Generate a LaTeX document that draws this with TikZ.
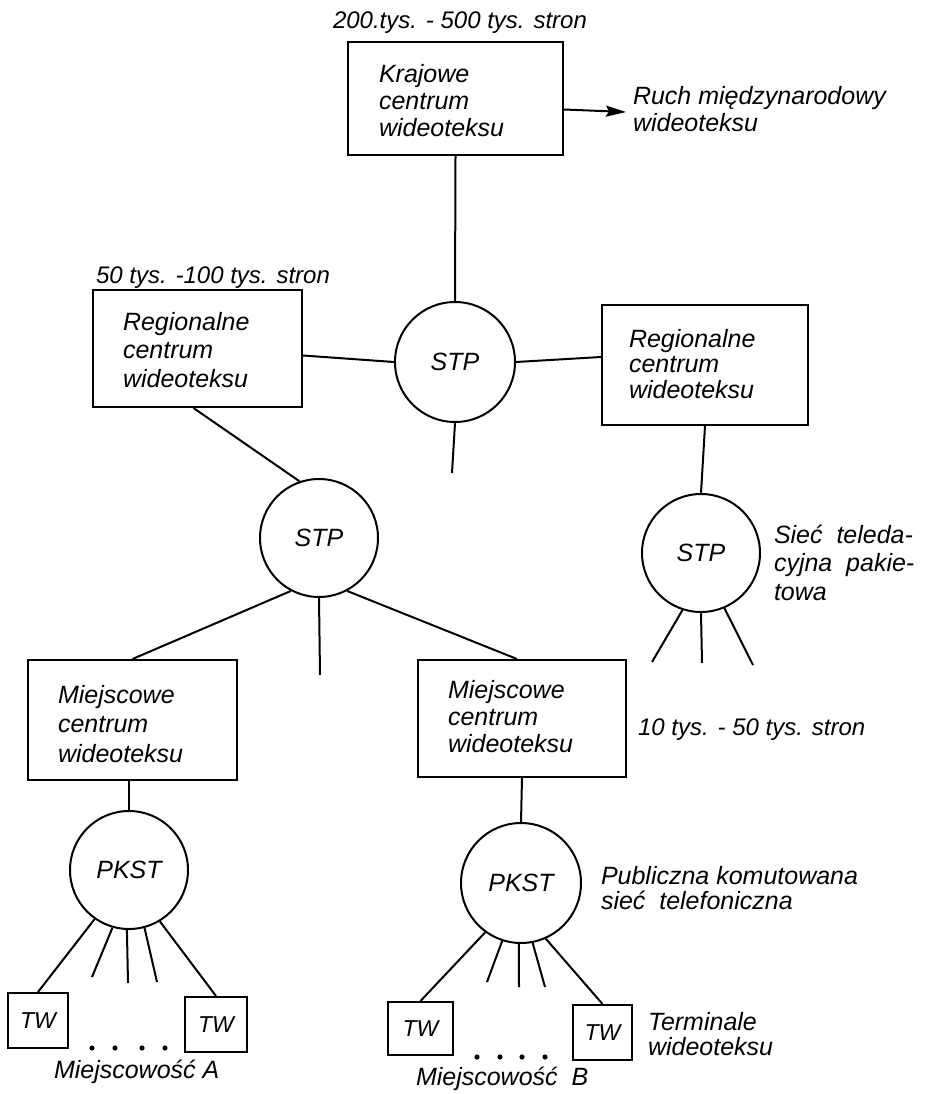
\documentclass[tikz,border=0pt]{standalone}
\usepackage{fontspec}
\setmainfont{Liberation Sans}
\usetikzlibrary{arrows.meta}
\begin{document}
\begin{tikzpicture}[x=1pt,y=-1pt, line width=2pt,
  box/.style={draw, rectangle, inner sep=0pt},
  hub/.style={draw, circle, inner sep=0pt, font=\fontsize{25}{27}\selectfont\itshape},
  txt/.style={inner sep=0pt, anchor=base west, align=left, font=\fontsize{25}{#1}\selectfont\itshape},
  txt/.default=27pt,
  lbl/.style={inner sep=0pt, anchor=base west, font=\fontsize{24}{26}\selectfont\itshape},
  tw/.style={draw, rectangle, inner sep=0pt, font=\fontsize{23}{25}\selectfont\itshape},
  dot/.style={fill=black, draw=none}]
\useasboundingbox (0,0) rectangle (931,1094);

% boxes
\node[box, minimum width=215pt, minimum height=113pt] (kraj) at (455.5,98.5) {};
\node[box, minimum width=209pt, minimum height=117pt] (regL) at (197.5,348.5) {};
\node[box, minimum width=206pt, minimum height=120pt] (regR) at (705,365) {};
\node[box, minimum width=209pt, minimum height=120pt] (mieA) at (132.5,720) {};
\node[box, minimum width=208pt, minimum height=117pt] (mieB) at (522,718.5) {};

% hubs
\node[hub, minimum size=120pt] (stp1) at (455,362) {STP};
\node[hub, minimum size=118pt] (stp2) at (319,538) {STP};
\node[hub, minimum size=118pt] (stp3) at (701,553) {STP};
\node[hub, minimum size=118pt] (pkA) at (129,870) {PKST};
\node[hub, minimum size=120pt] (pkB) at (521,883) {PKST};

% terminals
\node[tw, minimum width=60pt, minimum height=55pt] (twA1) at (38,1020.5) {TW};
\node[tw, minimum width=62pt, minimum height=55pt] (twA2) at (216,1024.5) {TW};
\node[tw, minimum width=65pt, minimum height=53pt] (twB1) at (420.5,1028.5) {TW};
\node[tw, minimum width=59pt, minimum height=55pt] (twB2) at (602.5,1032.5) {TW};

% texts in boxes (anchor = baseline of last line)
\node[txt] (tkraj) at (378,137) {Krajowe\\centrum\\wideoteksu};
\node[txt=28.5pt] (tregL) at (122,387) {Regionalne\\centrum\\wideoteksu};
\node[txt=25.5pt] (tregR) at (628,398) {Regionalne\\centrum\\wideoteksu};
\node[txt=29.5pt] (tmieA) at (57,762) {Miejscowe\\centrum\\wideoteksu};
\node[txt=27pt] (tmieB) at (447,752) {Miejscowe\\centrum\\wideoteksu};

% labels
\node[lbl] (l1) at (332,29) {200.tys. - 500 tys. stron};
\node[lbl] (l2) at (95,283) {50 tys. -100 tys. stron};
\node[lbl] (l3) at (637,735) {10 tys. - 50 tys. stron};
\node[txt] (ruch) at (632,132) {Ruch międzynarodowy\\wideoteksu};
\node[txt=28.5pt] (siec) at (773,600) {Sieć \ teleda-\\cyjna \ pakie-\\towa};
\node[txt=25pt] (pub) at (600,909) {Publiczna komutowana\\sieć \ telefoniczna};
\node[txt=25pt] (term) at (647,1055) {Terminale\\wideoteksu};
\node[txt] (mA) at (53,1078) {Miejscowość A};
\node[txt] (mB) at (415,1085) {Miejscowość \ B};

% free ends
\coordinate (ruchtip) at (626,112);
\coordinate (e1) at (452,473);
\coordinate (e2) at (320,675);
\coordinate (e3a) at (652,662);
\coordinate (e3b) at (702,663);
\coordinate (e3c) at (753,665);
\coordinate (eA2) at (92,977);
\coordinate (eA3) at (128,983);
\coordinate (eA4) at (157,982);
\coordinate (eB2) at (487,982);
\coordinate (eB3) at (519,987);
\coordinate (eB4) at (545,987);

% connectors
\draw (kraj.south) -- (stp1.north);
\draw[-{Stealth[length=20pt,width=11pt,inset=3pt]}] ([yshift=-11pt]kraj.east) -- (ruchtip);
\draw ([yshift=-7pt]regL.east) -- (stp1.west);
\draw (stp1.east) -- ([yshift=8pt]regR.west);
\draw (stp1.south) -- (e1);
\draw ([xshift=-4pt]regL.south) -- (stp2.109);
\draw (regR.south) -- (stp3.north);
\draw (stp3.252) -- (e3a);
\draw (stp3.south) -- (e3b);
\draw (stp3.293) -- (e3c);
\draw (stp2.242) -- (mieA.north);
\draw (stp2.south) -- (e2);
\draw (stp2.298) -- ([xshift=-5pt]mieB.north);
\draw (mieA.south -| pkA.north) -- (pkA.north);
\draw (mieB.south) -- (pkB.north);
\draw (pkA.235) -- (twA1.north);
\draw (pkA.254) -- (eA2);
\draw (pkA.268) -- (eA3);
\draw (pkA.285) -- (eA4);
\draw (pkA.301) -- (twA2.north);
\draw (pkB.234) -- (twB1.north);
\draw (pkB.252) -- (eB2);
\draw (pkB.268) -- (eB3);
\draw (pkB.281) -- (eB4);
\draw (pkB.294) -- (twB2.north);

% dots
\foreach \x in {92,115,142,165} \fill[dot] (\x,1048) circle (2.6pt);
\foreach \x in {477,500,522,545} \fill[dot] (\x,1057) circle (2.6pt);
\end{tikzpicture}
\end{document}
